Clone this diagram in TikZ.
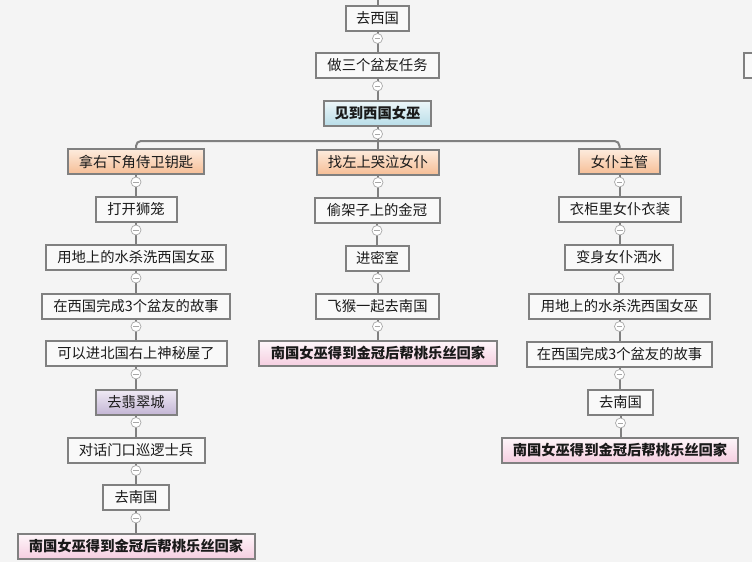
\documentclass[tikz,border=0pt]{standalone}
\usepackage{fontspec}
\newfontfamily\cjk{Noto Sans CJK SC}
\definecolor{bgc}{HTML}{F4F4F4}
\definecolor{boxline}{HTML}{808080}
\definecolor{boxfill}{HTML}{F9F9F9}
\definecolor{txt}{HTML}{1A1A1A}
\definecolor{foldgray}{HTML}{A8A8A8}
\begin{document}
\begin{tikzpicture}[x=1pt,y=-1pt,
  box/.style={draw=boxline, line width=2pt, fill=boxfill, inner sep=0pt,
    font=\cjk\fontsize{14.3}{16}\selectfont, text=txt, minimum height=25pt},
  orangebox/.style={box, top color={rgb,255:red,253;green,236;blue,222}, bottom color={rgb,255:red,246;green,190;blue,150}},
  bluebox/.style={box, font=\cjk\bfseries\fontsize{14.3}{16}\selectfont, top color={rgb,255:red,236;green,246;blue,249}, bottom color={rgb,255:red,184;green,221;blue,232}},
  purplebox/.style={box, top color={rgb,255:red,240;green,235;blue,245}, bottom color={rgb,255:red,196;green,182;blue,213}},
  pinkbox/.style={box, font=\cjk\bfseries\fontsize{14.3}{16}\selectfont, top color={rgb,255:red,254;green,246;blue,250}, bottom color={rgb,255:red,245;green,206;blue,224}},
  conn/.style={draw=boxline, line width=2pt},
  fold/.style={circle, draw=foldgray, fill=white, line width=0.7pt, minimum size=10pt, inner sep=0pt,
    path picture={\draw[foldgray, line width=0.9pt] ([xshift=-2.8pt]path picture bounding box.center) -- ([xshift=2.8pt]path picture bounding box.center);}}
]
\useasboundingbox (0,0) rectangle (752,562);
\clip (0,0) rectangle (752,562);
\fill[bgc] (0,0) rectangle (752,562);

% centre column
\node[box, minimum width=63pt] (A1) at (377.5,18) {去西国};
\node[box, minimum width=123pt] (A2) at (377.5,65.5) {做三个盆友任务};
\node[bluebox, minimum width=107pt] (A3) at (377.5,113.5) {见到西国女巫};

% partial node at the right edge
\node[box, minimum width=40pt] (X) at (764,65.5) {};

% left branch
\node[orangebox, minimum width=136pt] (L1) at (136,161.5) {拿右下角侍卫钥匙};
\node[box, minimum width=81pt] (L2) at (136,209.5) {打开狮笼};
\node[box, minimum width=180pt] (L3) at (136,257.5) {用地上的水杀洗西国女巫};
\node[box, minimum width=188pt] (L4) at (136,306) {在西国完成3个盆友的故事};
\node[box, minimum width=181pt] (L5) at (136,353.5) {可以进北国右上神秘屋了};
\node[purplebox, minimum width=81pt] (L6) at (136,402) {去翡翠城};
\node[box, minimum width=137pt] (L7) at (136,450) {对话门口巡逻士兵};
\node[box, minimum width=66pt] (L8) at (136,497.5) {去南国};
\node[pinkbox, minimum width=237pt] (L9) at (136,546) {南国女巫得到金冠后帮桃乐丝回家};

% middle branch
\node[orangebox, minimum width=122pt] (M1) at (378,162) {找左上哭泣女仆};
\node[box, minimum width=125pt] (M2) at (377,210) {偷架子上的金冠};
\node[box, minimum width=63pt] (M3) at (377.5,258) {进密室};
\node[box, minimum width=123pt] (M4) at (377.5,306) {飞猴一起去南国};
\node[pinkbox, minimum width=238pt] (M5) at (378,353.5) {南国女巫得到金冠后帮桃乐丝回家};

% right branch
\node[orangebox, minimum width=81pt] (R1) at (619.5,161.5) {女仆主管};
\node[box, minimum width=122pt] (R2) at (620,209.5) {衣柜里女仆衣装};
\node[box, minimum width=108pt] (R3) at (619,257.5) {变身女仆洒水};
\node[box, minimum width=181pt] (R4) at (619.5,306) {用地上的水杀洗西国女巫};
\node[box, minimum width=185pt] (R5) at (619.5,354) {在西国完成3个盆友的故事};
\node[box, minimum width=65pt] (R6) at (620.5,402.5) {去南国};
\node[pinkbox, minimum width=236pt] (R7) at (620,450) {南国女巫得到金冠后帮桃乐丝回家};

% connectors
\coordinate (topin) at (377.5,-4);
\coordinate (bar) at (377.5,141);
\draw[conn] (topin) -- (A1.north);
\draw[conn] (A1.south) -- (A2.north);
\draw[conn] (A2.south) -- (A3.north);
\draw[conn] (A3.south) -- (M1.north -| A3.south);
\draw[conn, rounded corners=5pt] (L1.north) |- (bar) -| (R1.north);
\foreach \a/\b in {L1/L2,L2/L3,L3/L4,L4/L5,L5/L6,L6/L7,L7/L8,L8/L9,
                   M1/M2,M2/M3,M3/M4,M4/M5,
                   R1/R2,R2/R3,R3/R4,R4/R5,R5/R6,R6/R7}{
  \draw[conn] (\a.south) -- (\a.south |- \b.north);
}
% fold markers
\foreach \a in {A1,A2,A3,L1,L2,L3,L4,L5,L6,L7,L8,M1,M2,M3,M4,R1,R2,R3,R4,R5,R6}{
  \path (\a.south) ++(0,7) node[fold] (f\a) {};
}
\end{tikzpicture}
\end{document}
